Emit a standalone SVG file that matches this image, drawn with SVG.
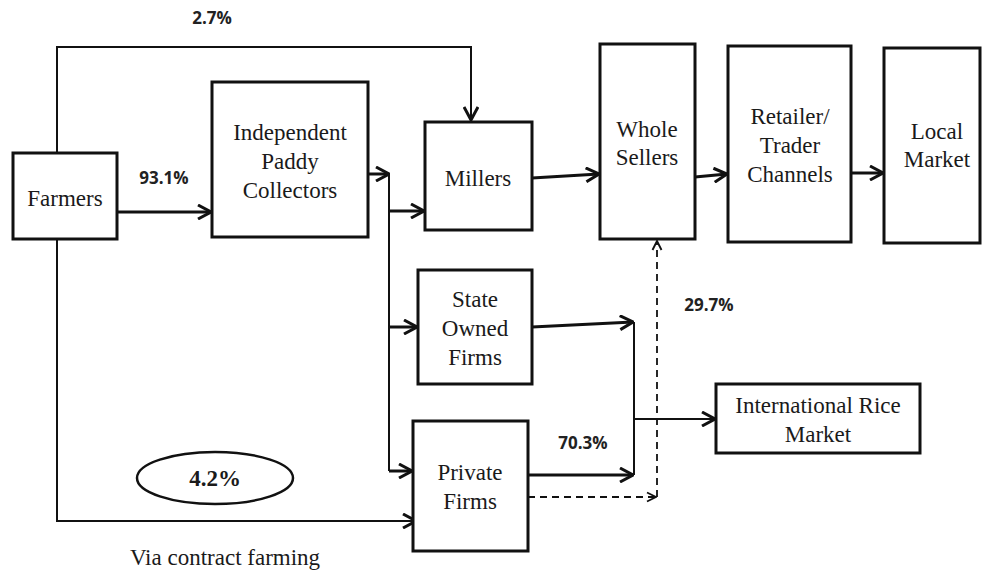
<svg xmlns="http://www.w3.org/2000/svg" width="984" height="572" viewBox="0 0 984 572">
<defs>
<style>
.box{fill:#fff;stroke:#111;stroke-width:3}
.t{font-family:'Liberation Serif','Times New Roman',serif;font-size:23px;fill:#1a1a1a;text-anchor:middle}
.p{font-family:'Open Sans','Liberation Sans',sans-serif;font-weight:bold;font-size:17px;fill:#222;text-anchor:middle}
.ln{fill:none;stroke:#111;stroke-width:3}
.thin{fill:none;stroke:#111;stroke-width:2}
.dash{fill:none;stroke:#111;stroke-width:1.8;stroke-dasharray:7 5}
</style>
<marker id="ah" viewBox="0 0 16 16" markerUnits="userSpaceOnUse" markerWidth="16" markerHeight="16" refX="15" refY="8" orient="auto">
<path d="M2,1 L15,8 L2,15" fill="none" stroke="#111" stroke-width="3"/>
</marker>
<marker id="ahs" viewBox="0 0 16 16" markerUnits="userSpaceOnUse" markerWidth="12" markerHeight="12" refX="15" refY="8" orient="auto">
<path d="M3,2 L15,8 L3,14" fill="none" stroke="#111" stroke-width="2.5"/>
</marker>
</defs>
<rect width="984" height="572" fill="#fff"/>
<g id="connectors">
<path class="thin" d="M57,153 V47 H471 V120" marker-end="url(#ah)"/>
<path class="ln" d="M117,212 H211" marker-end="url(#ah)"/>
<path class="ln" d="M368,174 H389" marker-end="url(#ah)"/>
<path class="thin" d="M389,174 V471"/>
<path class="ln" d="M389,211 H424" marker-end="url(#ah)"/>
<path class="ln" d="M389,327 H417" marker-end="url(#ah)"/>
<path class="ln" d="M389,471 H412" marker-end="url(#ah)"/>
<path class="thin" d="M57,239 V521 H416" marker-end="url(#ah)"/>
<path class="ln" d="M532,178 L599,174" marker-end="url(#ah)"/>
<path class="ln" d="M695,177 L727,174" marker-end="url(#ah)"/>
<path class="ln" d="M851,173 H883" marker-end="url(#ah)"/>
<path class="ln" d="M532,327 L633,322" marker-end="url(#ah)"/>
<path class="thin" d="M634,322 V475"/>
<path class="ln" d="M528,475 H633" marker-end="url(#ah)"/>
<path class="thin" d="M634,419 H715" marker-end="url(#ah)"/>
<path class="dash" d="M528,497 H656" marker-end="url(#ahs)"/>
<path class="dash" d="M657,497 V241" marker-end="url(#ahs)"/>
</g>
<g id="farmers">
<rect class="box" x="13" y="153" width="104" height="86"/>
<text class="t" x="65" y="206">Farmers</text>
</g>
<g id="ipc">
<rect class="box" x="212" y="82" width="156" height="155"/>
<text class="t" x="290" y="140">Independent</text>
<text class="t" x="290" y="169">Paddy</text>
<text class="t" x="290" y="198">Collectors</text>
</g>
<g id="millers">
<rect class="box" x="425" y="122" width="107" height="108"/>
<text class="t" x="478" y="186">Millers</text>
</g>
<g id="wholesellers">
<rect class="box" x="600" y="44" width="95" height="195"/>
<text class="t" x="647" y="137">Whole</text>
<text class="t" x="647" y="165">Sellers</text>
</g>
<g id="retailer">
<rect class="box" x="728" y="46" width="123" height="196"/>
<text class="t" x="790" y="124">Retailer/</text>
<text class="t" x="790" y="153">Trader</text>
<text class="t" x="790" y="182">Channels</text>
</g>
<g id="localmarket">
<rect class="box" x="884" y="48" width="96" height="195"/>
<text class="t" x="937" y="139">Local</text>
<text class="t" x="937" y="167">Market</text>
</g>
<g id="stateowned">
<rect class="box" x="418" y="270" width="114" height="114"/>
<text class="t" x="475" y="307">State</text>
<text class="t" x="475" y="336">Owned</text>
<text class="t" x="475" y="365">Firms</text>
</g>
<g id="privatefirms">
<rect class="box" x="413" y="421" width="115" height="130"/>
<text class="t" x="470" y="480">Private</text>
<text class="t" x="470" y="509">Firms</text>
</g>
<g id="international">
<rect class="box" x="716" y="384" width="204" height="69"/>
<text class="t" x="818" y="413">International Rice</text>
<text class="t" x="818" y="442">Market</text>
</g>
<g id="contract">
<ellipse cx="215" cy="478" rx="78" ry="26" fill="#fff" stroke="#111" stroke-width="2.5"/>
<text class="t" x="215" y="486" font-weight="bold" fill="#222">4.2%</text>
<text class="t" x="225" y="565">Via contract farming</text>
</g>
<g id="labels">
<text class="p" x="212" y="24">2.7%</text>
<text class="p" x="164" y="184">93.1%</text>
<text class="p" x="709" y="311">29.7%</text>
<text class="p" x="583" y="449">70.3%</text>
</g>
</svg>
